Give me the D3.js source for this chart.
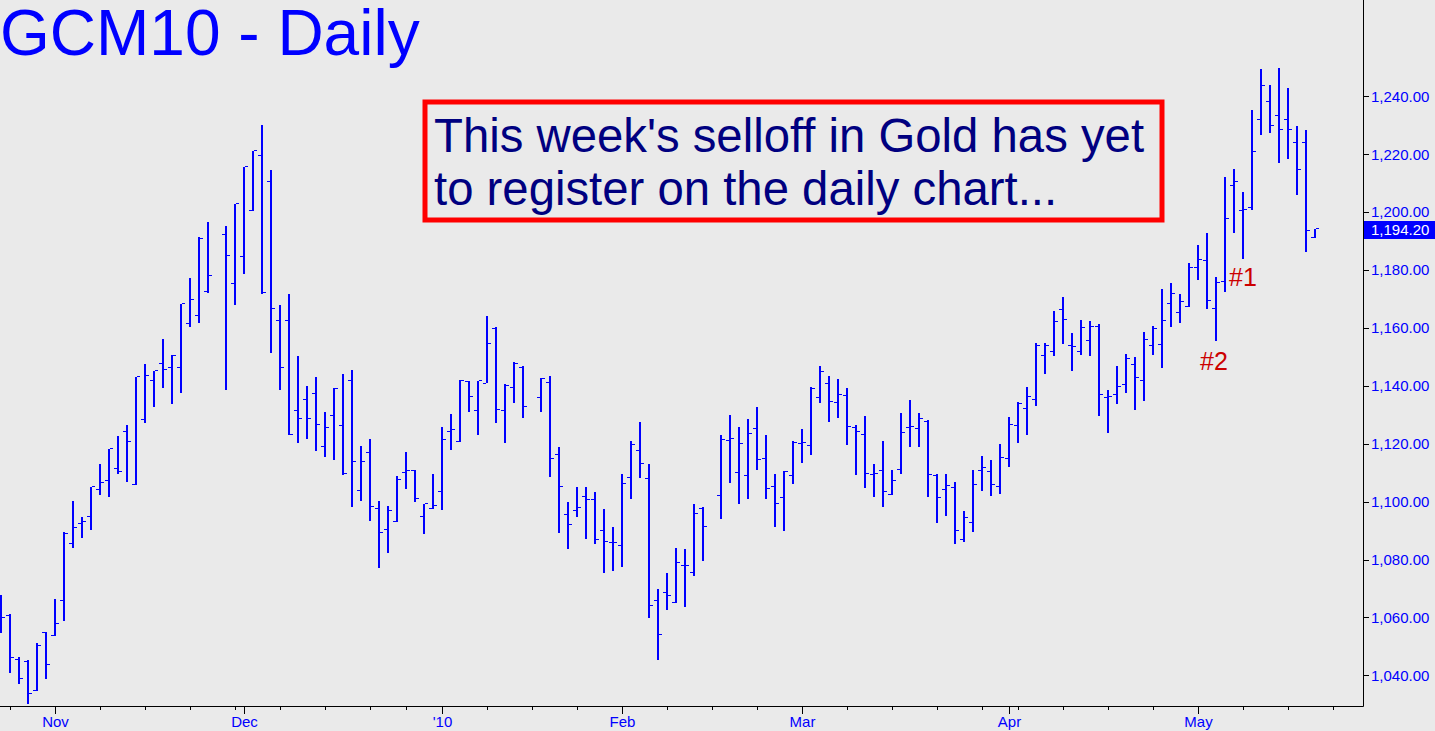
<!DOCTYPE html>
<html><head><meta charset="utf-8">
<script src="https://cdn.jsdelivr.net/npm/d3@7"></script>
<style>
html,body{margin:0;padding:0;background:#eaeaea;overflow:hidden}
svg{display:block}
text{font-family:"Liberation Sans",Arial,Helvetica,sans-serif}
</style>
</head><body>
<svg id="chart" width="1435" height="731"></svg>
<script>
// ---------- data ----------
const dates = [
"2009-10-23","2009-10-26","2009-10-27","2009-10-28","2009-10-29","2009-10-30",
"2009-11-02","2009-11-03","2009-11-04","2009-11-05","2009-11-06",
"2009-11-09","2009-11-10","2009-11-11","2009-11-12","2009-11-13",
"2009-11-16","2009-11-17","2009-11-18","2009-11-19","2009-11-20",
"2009-11-23","2009-11-24","2009-11-25","2009-11-27","2009-11-30",
"2009-12-01","2009-12-02","2009-12-03","2009-12-04",
"2009-12-07","2009-12-08","2009-12-09","2009-12-10","2009-12-11",
"2009-12-14","2009-12-15","2009-12-16","2009-12-17","2009-12-18",
"2009-12-21","2009-12-22","2009-12-23","2009-12-24",
"2009-12-28","2009-12-29","2009-12-30","2009-12-31",
"2010-01-04","2010-01-05","2010-01-06","2010-01-07","2010-01-08",
"2010-01-11","2010-01-12","2010-01-13","2010-01-14","2010-01-15",
"2010-01-19","2010-01-20","2010-01-21","2010-01-22",
"2010-01-25","2010-01-26","2010-01-27","2010-01-28","2010-01-29",
"2010-02-01","2010-02-02","2010-02-03","2010-02-04","2010-02-05",
"2010-02-08","2010-02-09","2010-02-10","2010-02-11","2010-02-12",
"2010-02-16","2010-02-17","2010-02-18","2010-02-19",
"2010-02-22","2010-02-23","2010-02-24","2010-02-25","2010-02-26",
"2010-03-01","2010-03-02","2010-03-03","2010-03-04","2010-03-05",
"2010-03-08","2010-03-09","2010-03-10","2010-03-11","2010-03-12",
"2010-03-15","2010-03-16","2010-03-17","2010-03-18","2010-03-19",
"2010-03-22","2010-03-23","2010-03-24","2010-03-25","2010-03-26",
"2010-03-29","2010-03-30","2010-03-31","2010-04-01",
"2010-04-05","2010-04-06","2010-04-07","2010-04-08","2010-04-09",
"2010-04-12","2010-04-13","2010-04-14","2010-04-15","2010-04-16",
"2010-04-19","2010-04-20","2010-04-21","2010-04-22","2010-04-23",
"2010-04-26","2010-04-27","2010-04-28","2010-04-29","2010-04-30",
"2010-05-03","2010-05-04","2010-05-05","2010-05-06","2010-05-07",
"2010-05-10","2010-05-11","2010-05-12","2010-05-13","2010-05-14",
"2010-05-17","2010-05-18","2010-05-19","2010-05-20"
];
const openP = [
1064.0,1060.9,1045.8,1045.1,1034.9,1054.9,
1054.0,1065.9,1085.8,1092.7,1094.9,
1104.5,1107.5,1111.6,1124.4,1106.0,
1128.6,1142.1,1147.8,1146.6,1146.6,
1161.8,1164.3,1172.8,1192.3,1175.4,
1184.9,1200.6,1219.8,1210.9,
1162.8,1162.8,1131.5,1135.5,1137.4,
1119.3,1130.0,1126.4,1142.1,1104.2,
1117.0,1097.9,1090.5,1093.2,
1110.1,1110.9,1094.9,1097.9,
1103.8,1124.4,1120.9,1141.6,1131.8,
1141.1,1159.9,1131.5,1139.6,1146.6,
1136.0,1141.3,1116.5,1095.7,
1097.1,1101.9,1100.9,1090.2,1086.0,
1085.0,1108.6,1117.8,1108.2,1065.9,
1068.8,1065.4,1078.1,1075.7,1097.9,
1102.4,1121.2,1110.1,1109.1,
1125.6,1115.0,1105.3,1101.7,1109.1,
1120.4,1119.7,1136.2,1141.1,1134.5,
1136.7,1125.9,1123.3,1109.7,1111.1,
1102.7,1111.3,1125.9,1125.6,1127.8,
1109.1,1104.5,1105.0,1087.2,1093.1,
1111.1,1110.5,1105.3,1115.0,
1126.4,1132.3,1135.5,1150.7,1151.9,
1166.6,1154.0,1152.2,1155.9,1160.8,
1136.0,1137.1,1140.7,1147.5,1142.1,
1154.0,1154.4,1168.7,1165.5,1167.7,
1181.0,1183.5,1166.9,1176.1,1209.3,
1200.9,1201.6,1232.2,1238.5,1233.6,
1232.2,1224.1,1224.1,1191.3
];
const highP = [
1067.8,1061.2,1046.2,1045.3,1051.1,1055.1,
1066.3,1089.5,1100.2,1094.6,1105.2,
1113.1,1118.2,1122.7,1126.4,1143.0,
1147.5,1145.3,1156.3,1150.7,1168.4,
1177.3,1191.3,1196.5,1195.3,1202.9,
1215.6,1221.2,1230.1,1214.5,
1168.0,1171.7,1150.3,1139.9,1143.0,
1131.1,1139.2,1144.1,1145.5,1119.3,
1121.5,1100.2,1098.6,1108.7,
1117.0,1111.1,1099.1,1109.4,
1125.9,1130.3,1142.1,1141.6,1141.8,
1164.0,1160.3,1140.7,1148.1,1147.0,
1142.6,1143.4,1118.8,1099.8,
1105.1,1105.1,1103.3,1097.5,1091.2,
1109.7,1120.9,1127.5,1113.1,1070.0,
1075.4,1084.0,1083.8,1099.1,1098.3,
1123.0,1130.0,1125.9,1128.6,
1132.7,1123.0,1109.7,1110.5,1120.9,
1125.2,1139.6,1147.0,1143.3,1142.4,
1139.2,1126.4,1129.7,1113.1,1120.9,
1110.9,1130.6,1135.2,1130.6,1128.1,
1109.7,1109.4,1106.7,1096.8,1110.9,
1115.7,1114.5,1120.0,1129.3,
1134.5,1139.6,1154.7,1154.8,1165.8,
1170.6,1158.4,1162.8,1162.5,1161.3,
1138.6,1146.9,1151.0,1150.0,1158.5,
1160.6,1173.3,1175.5,1171.7,1182.3,
1188.6,1192.8,1177.7,1212.2,1214.9,
1207.1,1235.3,1249.6,1244.0,1249.9,
1242.8,1229.7,1228.5,1194.2
];
const lowP = [
1054.5,1040.9,1036.9,1030.1,1034.6,1038.6,
1053.6,1058.9,1084.0,1087.5,1090.2,
1102.3,1101.6,1109.7,1106.9,1105.7,
1127.1,1132.7,1139.2,1133.7,1137.7,
1160.3,1161.8,1172.1,1138.6,1168.0,
1178.7,1200.4,1171.7,1151.4,
1138.6,1123.0,1120.4,1121.6,1117.4,
1115.3,1114.4,1109.1,1098.3,1100.2,
1093.4,1077.2,1082.4,1092.9,
1104.5,1099.8,1089.0,1097.3,
1097.1,1117.8,1120.7,1130.8,1123.1,
1141.1,1127.1,1120.4,1134.0,1128.9,
1131.1,1108.6,1089.3,1083.6,
1094.6,1087.0,1085.5,1075.4,1076.2,
1077.4,1100.8,1108.2,1059.7,1045.2,
1062.6,1065.1,1063.6,1074.3,1079.4,
1093.9,1106.4,1099.1,1101.0,
1110.9,1100.8,1091.2,1089.7,1106.0,
1113.5,1116.0,1134.0,1127.4,1128.9,
1119.4,1109.1,1104.7,1101.6,1098.3,
1102.3,1109.4,1119.0,1119.0,1101.7,
1092.7,1094.9,1085.5,1086.2,1089.5,
1103.8,1102.0,1102.7,1111.9,
1120.4,1123.1,1133.0,1144.1,1150.3,
1154.4,1145.1,1150.7,1150.3,1129.6,
1123.8,1133.7,1137.7,1131.5,1134.9,
1150.7,1146.3,1160.3,1161.8,1167.2,
1176.5,1166.5,1155.4,1172.5,1192.8,
1183.9,1200.9,1226.7,1227.2,1217.1,
1218.3,1206.0,1186.1,1190.9
];
const closeP = [
1059.9,1046.1,1038.6,1033.6,1050.3,1043.6,
1057.6,1088.7,1090.9,1093.1,1105.2,
1106.4,1118.2,1110.4,1120.7,1143.0,
1143.3,1145.3,1145.5,1150.4,1168.4,
1169.6,1190.8,1178.0,1184.9,1202.9,
1215.6,1221.2,1172.0,1166.6,
1146.0,1123.1,1128.6,1128.6,1126.6,
1125.6,1138.9,1109.7,1113.8,1113.8,
1098.3,1089.2,1096.8,1107.6,
1110.6,1100.8,1099.1,1098.6,
1121.2,1124.9,1141.6,1136.0,1141.6,
1154.4,1131.8,1140.1,1147.5,1132.7,
1142.4,1114.7,1105.2,1092.0,
1097.9,1100.6,1086.8,1086.1,1085.8,
1106.1,1119.4,1113.1,1064.1,1054.0,
1067.5,1078.7,1077.9,1095.8,1091.4,
1121.2,1121.5,1120.0,1123.4,
1114.5,1104.5,1099.1,1110.1,1120.4,
1120.1,1138.9,1144.8,1134.5,1136.7,
1125.9,1124.1,1109.7,1109.7,1103.2,
1107.2,1123.8,1125.9,1128.6,1109.1,
1101.3,1105.3,1089.9,1094.3,1105.7,
1111.6,1105.7,1115.0,1126.4,
1133.7,1136.2,1153.7,1153.7,1162.2,
1162.8,1153.4,1159.9,1160.3,1137.0,
1136.2,1139.6,1149.2,1142.6,1156.0,
1159.5,1162.5,1171.7,1168.9,1180.7,
1183.6,1169.2,1175.5,1197.5,1210.5,
1200.9,1220.8,1243.4,1229.7,1228.2,
1228.2,1214.5,1193.5,1194.2
];
const exchangeHolidays = ["2009-12-25","2010-01-01","2010-04-02"];
const axisStart = "2009-10-23";
const axisEnd = "2010-05-27";
const priceTicks = [1040,1060,1080,1100,1120,1140,1160,1180,1200,1220,1240];
const monthLabels = ["Nov","Dec","'10","Feb","Mar","Apr","May"];
const lastPrice = 1194.20;
const titleText = "GCM10 - Daily";
const noteLines = ["This week's selloff in Gold has yet","to register on the daily chart..."];
const markerLabels = ["#1","#2"];

// ---------- layout ----------
const W = 1435, H = 731;
const plotRight = 1363, plotBottom = 706;
const BLUE = "#0000ff";
const svg = d3.select("#chart");
svg.append("rect").attr("width",W).attr("height",H).attr("fill","#eaeaea");

const fmtKey = d3.utcFormat("%Y-%m-%d");
const parse = d3.utcParse("%Y-%m-%d");
const slots = d3.utcDay.range(parse(axisStart), d3.utcDay.offset(parse(axisEnd),1))
  .filter(d => d.getUTCDay()!==0 && d.getUTCDay()!==6 && !exchangeHolidays.includes(fmtKey(d)))
  .map(fmtKey);

const x = d3.scalePoint().domain(slots).range([1, 1 + 9*(slots.length-1)]);
const y = d3.scaleLinear().domain([1040,1240]).range([675.4, 96.3]);

// clip
svg.append("defs").append("clipPath").attr("id","plotclip")
  .append("rect").attr("x",0).attr("y",0).attr("width",plotRight).attr("height",plotBottom);

// bars
const bars = dates.map((d,i)=>({d, o:openP[i], h:highP[i], l:lowP[i], c:closeP[i]}));
const g = svg.append("g").attr("clip-path","url(#plotclip)").attr("shape-rendering","crispEdges");
const bg = g.selectAll("g.bar").data(bars).join("g").attr("class","bar");
bg.append("rect")
  .attr("x", b => Math.round(x(b.d)) - 1)
  .attr("width", 2)
  .attr("y", b => Math.round(y(b.h)))
  .attr("height", b => Math.max(1, Math.round(y(b.l)) - Math.round(y(b.h))))
  .attr("fill", BLUE);
bg.append("rect")
  .attr("x", b => Math.round(x(b.d)) - 4)
  .attr("width", 3)
  .attr("y", b => Math.round(y(b.o)))
  .attr("height", 1)
  .attr("fill", BLUE);
bg.append("rect")
  .attr("x", b => Math.round(x(b.d)) + 1)
  .attr("width", 3)
  .attr("y", b => Math.round(y(b.c)) - 1)
  .attr("height", 1)
  .attr("fill", BLUE);

// x axis ticks (weekly + monthly)
const weekStarts = slots.filter((s,i)=> i>0 && d3.utcMonday.floor(parse(s)).getTime() !== d3.utcMonday.floor(parse(slots[i-1])).getTime());
const monthStarts = slots.filter((s,i)=> i>0 && parse(s).getUTCMonth() !== parse(slots[i-1]).getUTCMonth());

const xWeek = svg.append("g").attr("transform",`translate(0,${plotBottom})`)
  .attr("shape-rendering","crispEdges")
  .call(d3.axisBottom(x).tickValues(weekStarts).tickSize(4).tickSizeOuter(0).tickFormat(""));
xWeek.select(".domain").remove();
const xMonth = svg.append("g").attr("transform",`translate(0,${plotBottom})`)
  .attr("shape-rendering","crispEdges")
  .call(d3.axisBottom(x).tickValues(monthStarts).tickSize(8).tickSizeOuter(0)
    .tickFormat((d,i)=>monthLabels[i]));
xMonth.select(".domain").remove();
svg.selectAll(".tick line").attr("stroke","#000");
xMonth.selectAll("text")
  .attr("y",21).attr("dy",0)
  .attr("fill",BLUE).attr("font-size",15)
  .attr("font-family",'"Liberation Sans",Arial,sans-serif');

// y axis
const yAx = svg.append("g").attr("transform",`translate(${plotRight},0)`)
  .attr("shape-rendering","crispEdges")
  .call(d3.axisRight(y).tickValues(priceTicks).tickSize(6).tickPadding(2).tickSizeOuter(0)
    .tickFormat(d3.format(",.2f")));
yAx.select(".domain").remove();
yAx.selectAll("line").attr("stroke","#000");
yAx.selectAll("text").attr("fill",BLUE).attr("font-size",15)
  .attr("font-family",'"Liberation Sans",Arial,sans-serif');

// axis lines
svg.append("line").attr("x1",0).attr("x2",plotRight+0.5).attr("y1",plotBottom+0.5).attr("y2",plotBottom+0.5)
  .attr("stroke","#000").attr("stroke-width",1);
svg.append("line").attr("x1",plotRight+0.5).attr("x2",plotRight+0.5).attr("y1",0).attr("y2",plotBottom+0.5)
  .attr("stroke","#000").attr("stroke-width",1);

// last price marker
const ly = y(lastPrice);
svg.append("rect").attr("x",plotRight+1).attr("y",Math.round(ly)-8).attr("width",W-plotRight-1).attr("height",18)
  .attr("fill",BLUE);
svg.append("text").attr("x",plotRight+8).attr("y",ly+6).attr("fill","#fff").attr("font-size",15)
  .text(d3.format(",.2f")(lastPrice));

// title
svg.append("text").attr("x",0).attr("y",55).attr("fill",BLUE).attr("font-size",64).text(titleText);

// note box
svg.append("rect").attr("x",425).attr("y",102).attr("width",737).attr("height",118)
  .attr("fill","none").attr("stroke","#ff0000").attr("stroke-width",5);
svg.selectAll("text.note").data(noteLines).join("text").attr("class","note")
  .attr("x",434).attr("y",(d,i)=>152 + i*53.4)
  .attr("fill","#000080").attr("font-size",47.3).text(d=>d);

// markers
svg.append("text").attr("x",1229).attr("y",286).attr("fill","#cc0000").attr("font-size",25).text(markerLabels[0]);
svg.append("text").attr("x",1200).attr("y",370).attr("fill","#cc0000").attr("font-size",25).text(markerLabels[1]);
</script>
</body></html>
